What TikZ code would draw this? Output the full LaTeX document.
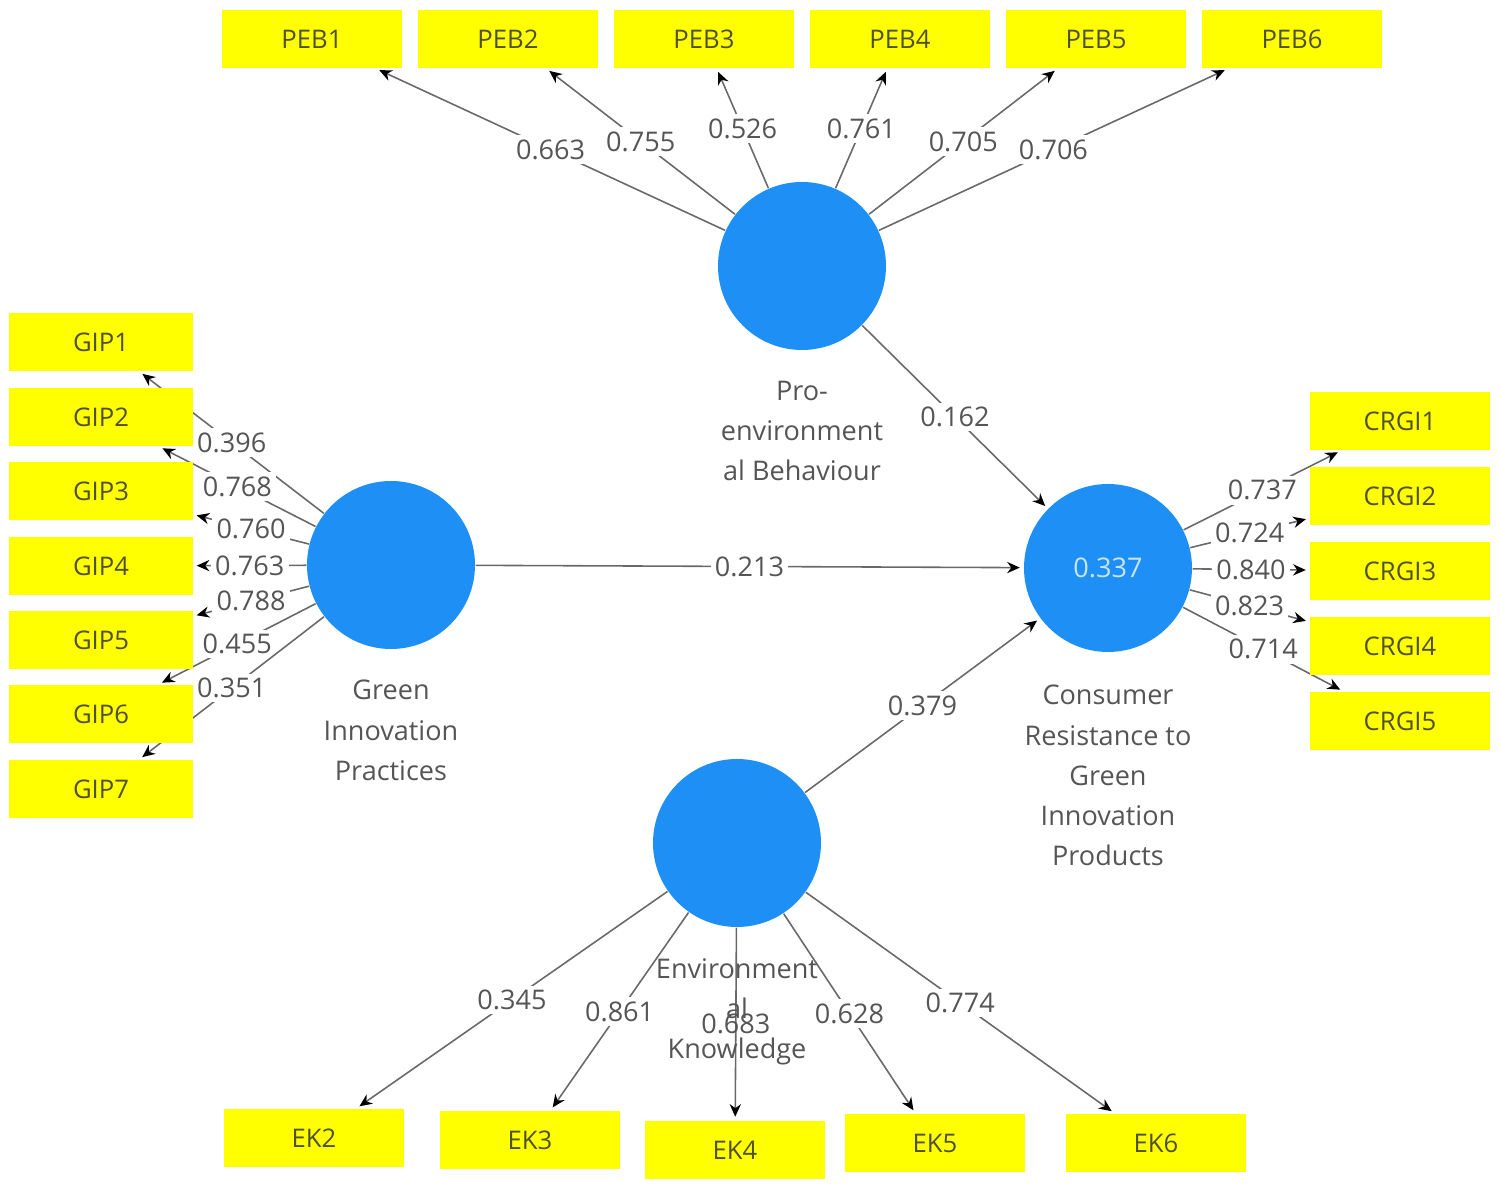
\documentclass[tikz,border=0pt]{standalone}
\usepackage{fontspec}
\setmainfont{Open Sans}
\usetikzlibrary{arrows.meta,positioning}
\pgfdeclarelayer{edges}
\pgfsetlayers{edges,main}
\definecolor{lvblue}{RGB}{30,144,245}
\definecolor{itemyellow}{RGB}{255,255,0}
\definecolor{pathgray}{RGB}{105,105,105}
\definecolor{textgray}{RGB}{85,85,85}
\definecolor{itemtext}{RGB}{80,80,40}

\begin{document}
\begin{tikzpicture}[
    latent/.style={circle, fill=lvblue, minimum size=1.68cm, inner sep=0pt, text={rgb,255:red,200;green,228;blue,255}, font=\fontsize{7.7}{9}\selectfont},
    item/.style={rectangle, fill=itemyellow, minimum width=1.8cm, minimum height=0.58cm, inner sep=0pt, text=itemtext, font=\fontsize{7.3}{9}\selectfont},
    caption/.style={align=center, inner sep=0pt, text=textgray, font=\fontsize{7.7}{11.4}\selectfont},
    loading/.style={draw=pathgray, line width=0.45pt, -{Stealth[length=3.6pt,width=3.2pt,color=black]}, shorten >=1pt},
    weight/.style={fill=white, inner sep=1.2pt, text=textgray, font=\fontsize{7.7}{9}\selectfont},
]
            \useasboundingbox (0,0) rectangle (15,11.89);

            % latent variables
            \node[latent] (peb) at (8.02,9.23) {};
            \node[latent] (gip) at (3.91,6.24) {};
            \node[latent] (crgi) at (11.08,6.21) {0.337};
            \node[latent] (ek) at (7.37,3.46) {};

            % names below the circles
            \node[caption, below=0.3 of peb] (pebcap) {Pro-\\environment\\al Behaviour};
            \node[caption, below=0.3 of gip] (gipcap) {Green\\Innovation\\Practices};
            \node[caption, below=0.32 of crgi] (crgicap) {Consumer\\Resistance to\\Green\\Innovation\\Products};
            \node[caption, below=0.3 of ek] (ekcap) {Environment\\al\\Knowledge};

            % PEB items
            \node[item] (peb1) at (3.12,11.50) {PEB1};
            \node[item] (peb2) at (5.08,11.50) {PEB2};
            \node[item] (peb3) at (7.04,11.50) {PEB3};
            \node[item] (peb4) at (9.00,11.50) {PEB4};
            \node[item] (peb5) at (10.96,11.50) {PEB5};
            \node[item] (peb6) at (12.92,11.50) {PEB6};

            % GIP items
            \node[item, minimum width=1.83cm] (gip1) at (1.01,8.47) {GIP1};
            \node[item, minimum width=1.83cm] (gip2) at (1.01,7.72) {GIP2};
            \node[item, minimum width=1.83cm] (gip3) at (1.01,6.98) {GIP3};
            \node[item, minimum width=1.83cm] (gip4) at (1.01,6.23) {GIP4};
            \node[item, minimum width=1.83cm] (gip5) at (1.01,5.49) {GIP5};
            \node[item, minimum width=1.83cm] (gip6) at (1.01,4.75) {GIP6};
            \node[item, minimum width=1.83cm] (gip7) at (1.01,4.00) {GIP7};

            % CRGI items
            \node[item] (crgi1) at (14.00,7.68) {CRGI1};
            \node[item] (crgi2) at (14.00,6.93) {CRGI2};
            \node[item] (crgi3) at (14.00,6.18) {CRGI3};
            \node[item] (crgi4) at (14.00,5.43) {CRGI4};
            \node[item] (crgi5) at (14.00,4.68) {CRGI5};

            % EK items
            \node[item] (ek2) at (3.14,0.51) {EK2};
            \node[item] (ek3) at (5.30,0.49) {EK3};
            \node[item] (ek4) at (7.35,0.39) {EK4};
            \node[item] (ek5) at (9.35,0.46) {EK5};
            \node[item] (ek6) at (11.56,0.46) {EK6};

            \begin{pgfonlayer}{edges}
            % outer loadings of PEB
            \draw[loading] (peb) -- node[weight] {0.663} (peb1);
            \draw[loading] (peb) -- node[weight] {0.755} (peb2);
            \draw[loading] (peb) -- node[weight] {0.526} (peb3);
            \draw[loading] (peb) -- node[weight] {0.761} (peb4);
            \draw[loading] (peb) -- node[weight] {0.705} (peb5);
            \draw[loading] (peb) -- node[weight] {0.706} (peb6);

            % outer loadings of GIP
            \draw[loading] (gip) -- node[weight] {0.396} (gip1);
            \draw[loading] (gip) -- node[weight] {0.768} (gip2);
            \draw[loading] (gip) -- node[weight] {0.760} (gip3);
            \draw[loading] (gip) -- node[weight] {0.763} (gip4);
            \draw[loading] (gip) -- node[weight] {0.788} (gip5);
            \draw[loading] (gip) -- node[weight] {0.455} (gip6);
            \draw[loading] (gip) -- node[weight] {0.351} (gip7);

            % outer loadings of CRGI
            \draw[loading] (crgi) -- node[weight] {0.737} (crgi1);
            \draw[loading] (crgi) -- node[weight] {0.724} (crgi2);
            \draw[loading] (crgi) -- node[weight] {0.840} (crgi3);
            \draw[loading] (crgi) -- node[weight] {0.823} (crgi4);
            \draw[loading] (crgi) -- node[weight] {0.714} (crgi5);

            % outer loadings of EK
            \draw[loading] (ek) -- node[weight] {0.345} (ek2);
            \draw[loading] (ek) -- node[weight] {0.861} (ek3);
            \draw[loading] (ek) -- node[weight, fill=none] {0.683} (ek4);
            \draw[loading] (ek) -- node[weight] {0.628} (ek5);
            \draw[loading] (ek) -- node[weight] {0.774} (ek6);

            % path coefficients
            \draw[loading] (peb) -- node[weight] {0.162} (crgi);
            \draw[loading] (gip) -- node[weight] {0.213} (crgi);
            \draw[loading] (ek) -- node[weight] {0.379} (crgi);
            \end{pgfonlayer}

\end{tikzpicture}
\end{document}
